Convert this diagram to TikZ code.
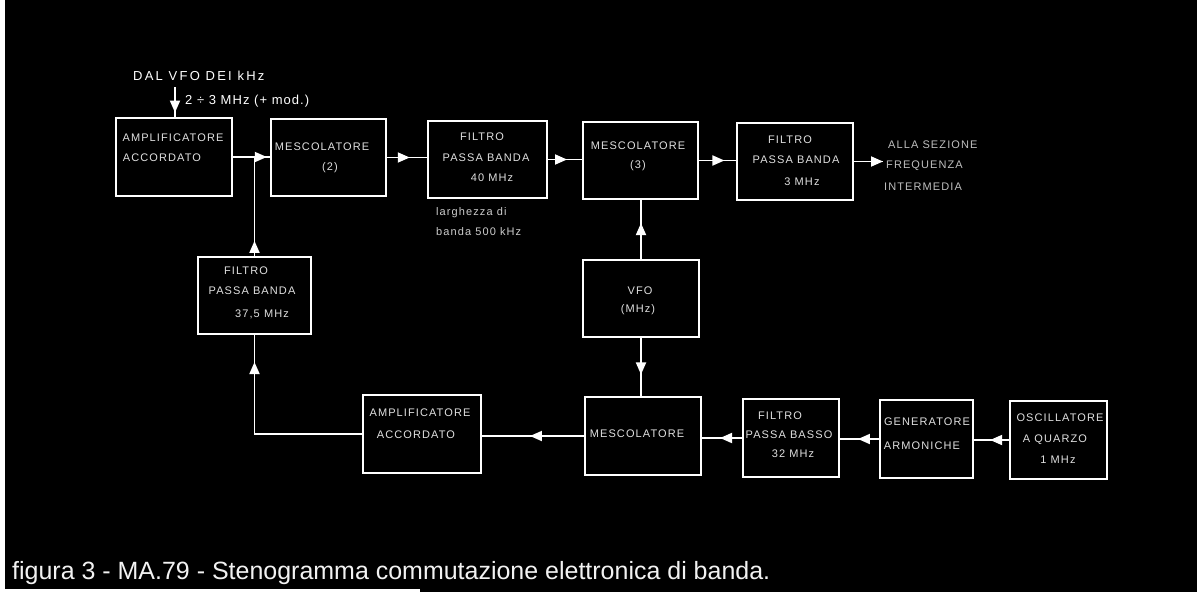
\documentclass[tikz,border=0pt]{standalone}
\usepackage{fontspec}
\setmainfont{Liberation Sans}
\newfontfamily\spacedfont[LetterSpace=10]{Liberation Sans}
\newfontfamily\widefont[LetterSpace=17]{Liberation Sans}
\newfontfamily\midfont[LetterSpace=8]{Liberation Sans}
\usetikzlibrary{arrows.meta,decorations.markings}
\begin{document}
\begin{tikzpicture}[x=1pt,y=-1pt,
  blk/.style={draw=white,line width=2.6pt,fill=black,inner sep=0pt},
  wire/.style={draw=white,line width=1.8pt},
  btxt/.style={text=white!88!black,font=\spacedfont\fontsize{11}{12}\selectfont,inner sep=0pt},
  ftxt/.style={text=white,inner sep=0pt,anchor=west},
  tipat/.style={postaction={decorate},decoration={markings,
     mark=at position #1 with {\arrow{Triangle[width=10pt,length=12pt]}}}}
]
\fill[black] (0,0) rectangle (1197,592);
\fill[white] (0,0) rectangle (5,592);
\fill[white] (5,589) rectangle (420,592);
\useasboundingbox (0,0) rectangle (1197,592);

% blocks
\node[blk,minimum width=116pt,minimum height=78pt] (amp1) at (174,157) {};
\node[blk,minimum width=115pt,minimum height=77pt] (mes2) at (328.5,157.5) {};
\node[blk,minimum width=119pt,minimum height=77pt] (f40) at (487.5,159.5) {};
\node[blk,minimum width=115pt,minimum height=77pt] (mes3) at (640.5,160.5) {};
\node[blk,minimum width=116pt,minimum height=77pt] (f3) at (795,161.5) {};
\node[blk,minimum width=113pt,minimum height=77pt] (f37) at (254.5,295.5) {};
\node[blk,minimum width=116pt,minimum height=77pt] (vfo) at (641,298.5) {};
\node[blk,minimum width=118pt,minimum height=78pt] (amp2) at (422,434) {};
\node[blk,minimum width=116pt,minimum height=78pt] (mes) at (643,436) {};
\node[blk,minimum width=96pt,minimum height=78pt] (f32) at (791,438) {};
\node[blk,minimum width=93pt,minimum height=78pt] (gen) at (926.5,439) {};
\node[blk,minimum width=97pt,minimum height=78pt] (osc) at (1058.5,440) {};

% block texts
\node[btxt] (t1a) at (173,138) {AMPLIFICATORE};
\node[btxt] (t1b) at (162,158) {ACCORDATO};
\node[btxt] (t2a) at (322,147) {MESCOLATORE};
\node[btxt] (t2b) at (330,168) {(2)};
\node[btxt] (t3a) at (482,137) {FILTRO};
\node[btxt] (t3b) at (486,158) {PASSA BANDA};
\node[btxt] (t3c) at (492,178) {40 MHz};
\node[btxt] (t4a) at (638,146) {MESCOLATORE};
\node[btxt] (t4b) at (638,166) {(3)};
\node[btxt] (t5a) at (790,140) {FILTRO};
\node[btxt] (t5b) at (796,160) {PASSA BANDA};
\node[btxt] (t5c) at (802,182) {3 MHz};
\node[btxt] (t6a) at (246,271) {FILTRO};
\node[btxt] (t6b) at (252,291) {PASSA BANDA};
\node[btxt] (t6c) at (262,314) {37,5 MHz};
\node[btxt] (t7a) at (640,291) {VFO};
\node[btxt] (t7b) at (638,310) {(MHz)};
\node[btxt] (t8a) at (420,413) {AMPLIFICATORE};
\node[btxt] (t8b) at (416,435) {ACCORDATO};
\node[btxt] (t9a) at (637,434) {MESCOLATORE};
\node[btxt] (t10a) at (780,416) {FILTRO};
\node[btxt] (t10b) at (789,435) {PASSA BASSO};
\node[btxt] (t10c) at (793,454) {32 MHz};
\node[btxt] (t11a) at (927,422) {GENERATORE};
\node[btxt] (t11b) at (922,446) {ARMONICHE};
\node[btxt] (t12a) at (1060,418) {OSCILLATORE};
\node[btxt] (t12b) at (1055,440) {A QUARZO};
\node[btxt] (t12c) at (1058,460) {1 MHz};

% free texts
\node[ftxt,font=\widefont\fontsize{13}{14}\selectfont] (in1) at (133,76) {DAL VFO DEI kHz};
\node[ftxt,font=\midfont\fontsize{13}{14}\selectfont] (in2) at (185,101) {2 ÷ 3 MHz (+ mod.)};
\node[btxt,anchor=west,text=white!80!black] (lg1) at (436,213) {larghezza di};
\node[btxt,anchor=west,text=white!80!black] (lg2) at (436,232) {banda 500 kHz};
\node[btxt,anchor=west,text=white!75!black] (out1) at (888,145) {ALLA SEZIONE};
\node[btxt,anchor=west,text=white!75!black] (out2) at (886,166) {FREQUENZA};
\node[btxt,anchor=west,text=white!75!black] (out3) at (884,187) {INTERMEDIA};

% connectors
\coordinate (inp) at (175,87);
\coordinate (outp) at (883,161.5);
\coordinate (j) at (f37.north |- amp1.east);

\draw[wire,tipat=0.86] (inp) -- (inp |- amp1.north);
\draw[wire,tipat=0.92] (amp1.east) -- (amp1.east -| mes2.west);
\draw[wire,tipat=0.57] (mes2.east) -- (mes2.east -| f40.west);
\draw[wire,tipat=0.56] (f40.east) -- (f40.east -| mes3.west);
\draw[wire,tipat=0.69] (mes3.east) -- (mes3.east -| f3.west);
\draw[wire,tipat=1] (f3.east |- outp) -- (outp);
\draw[wire,tipat=0.61] (vfo.north) -- (vfo.north |- mes3.south);
\draw[wire,tipat=0.63] (vfo.south) -- (vfo.south |- mes.north);
\draw[wire,tipat=0.53] (mes.west) -- (mes.west -| amp2.east);
\draw[wire,tipat=0.55] (f32.west) -- (f32.west -| mes.east);
\draw[wire,tipat=0.54] (gen.west) -- (gen.west -| f32.east);
\draw[wire,tipat=0.54] (osc.west) -- (osc.west -| gen.east);
\draw[wire,tipat=0.87] (amp2.west) -| (f37.south);
\draw[wire,tipat=0.15] (f37.north) -- (j);

% caption
\node[anchor=base west,inner sep=0pt,text=white!95!black] (cap) at (12,579)
  {\resizebox{758pt}{!}{\fontsize{20}{24}\selectfont figura 3 - MA.79 - Stenogramma commutazione elettronica di banda.}};
\end{tikzpicture}
\end{document}
